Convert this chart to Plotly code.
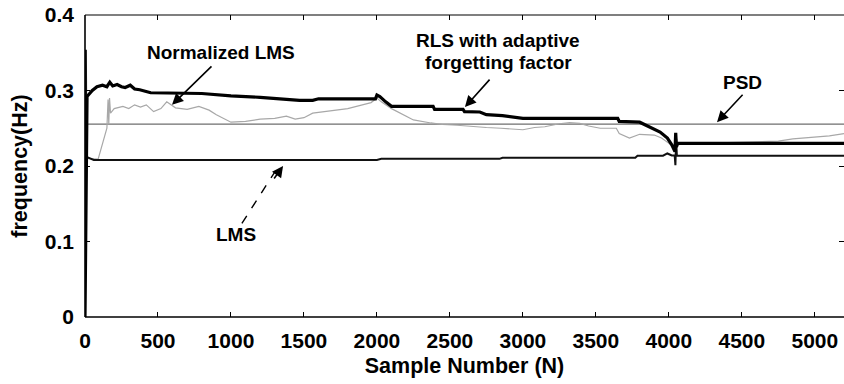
import plotly.graph_objects as go

# ---- data: estimated frequency vs. sample number ----
rls_n = [0, 8, 14, 50, 82, 120, 150, 170, 190, 220, 250, 275, 310, 340, 375, 450, 800,
         1000, 1200, 1470, 1560, 1600, 1990, 2000, 2020, 2060, 2100, 2385, 2395, 2590,
         2600, 2705, 2750, 2860, 3000, 3650, 3660, 3800, 3870, 3940, 3990, 4020, 4042,
         4047, 4052, 4060, 5200]
rls_f = [0.0, 0.255, 0.292, 0.300, 0.305, 0.307, 0.305, 0.311, 0.306, 0.308, 0.305, 0.304,
         0.307, 0.302, 0.301, 0.297, 0.296, 0.293, 0.291, 0.287, 0.287, 0.289, 0.289, 0.294,
         0.292, 0.285, 0.279, 0.279, 0.275, 0.275, 0.272, 0.2715, 0.268, 0.2667, 0.263,
         0.263, 0.259, 0.258, 0.252, 0.245, 0.237, 0.228, 0.219, 0.244, 0.225, 0.230, 0.230]

lms_n = [0, 6, 10, 20, 60, 2000, 2030, 2840, 2860, 3770, 3785, 3960, 3990, 4020, 4040,
         4045, 4050, 4055, 5200]
lms_f = [0.0, 0.354, 0.212, 0.211, 0.208, 0.208, 0.2095, 0.2095, 0.211, 0.211, 0.2136,
         0.2136, 0.2166, 0.214, 0.214, 0.201, 0.236, 0.2136, 0.2136]

nlms_n = [0, 90, 150, 158, 163, 168, 175, 200, 260, 300, 340, 380, 420, 470, 520, 560, 620,
          700, 780, 850, 900, 960, 1000, 1100, 1200, 1300, 1380, 1440, 1500, 1560, 1700,
          1800, 1900, 1960, 2000, 2030, 2100, 2250, 2370, 2450, 2550, 2650, 2750,
          2850, 2950, 3000, 3080, 3150, 3250, 3320, 3390, 3450, 3530, 3640, 3660, 3730,
          3800, 3900, 3950, 3990, 4030, 4080, 4200, 4400, 4600, 4750, 4850, 5000, 5100, 5200]
nlms_f = [0.210, 0.209, 0.250, 0.288, 0.255, 0.290, 0.270, 0.276, 0.279, 0.276, 0.281,
          0.278, 0.281, 0.272, 0.276, 0.285, 0.277, 0.275, 0.279, 0.274, 0.268, 0.262,
          0.258, 0.259, 0.262, 0.263, 0.266, 0.262, 0.264, 0.270, 0.274, 0.276, 0.281,
          0.284, 0.290, 0.285, 0.276, 0.261, 0.257, 0.255, 0.254, 0.252, 0.251,
          0.250, 0.249, 0.248, 0.251, 0.252, 0.256, 0.2575, 0.2565, 0.253, 0.250, 0.250,
          0.243, 0.237, 0.242, 0.241, 0.237, 0.232, 0.226, 0.229, 0.231, 0.231, 0.232,
          0.233, 0.236, 0.238, 0.240, 0.243]

psd_n = [0, 5200]
psd_f = [0.2555, 0.2555]

x_ticks = [0, 500, 1000, 1500, 2000, 2500, 3000, 3500, 4000, 4500, 5000]
y_ticks = [0, 0.1, 0.2, 0.3, 0.4]
y_labels = ["0", "0.1", "0.2", "0.3", "0.4"]
x_range = [0, 5200]
y_range = [0, 0.4]

FONT = "Liberation Sans, Arial, sans-serif"

fig = go.Figure()
fig.add_trace(go.Scatter(x=psd_n, y=psd_f, mode="lines",
                         line=dict(color="#6e6e6e", width=1.2), name="PSD"))
fig.add_trace(go.Scatter(x=nlms_n, y=nlms_f, mode="lines",
                         line=dict(color="#a8a8a8", width=1.2), name="Normalized LMS"))
fig.add_trace(go.Scatter(x=lms_n, y=lms_f, mode="lines",
                         line=dict(color="#111111", width=2), name="LMS"))
fig.add_trace(go.Scatter(x=rls_n, y=rls_f, mode="lines",
                         line=dict(color="#000000", width=3.2),
                         name="RLS with adaptive forgetting factor"))

# axis frame (left, bottom, top)
frame = dict(type="line", xref="paper", yref="paper", line=dict(color="black", width=1.6))
fig.add_shape(frame, x0=0, x1=0, y0=0, y1=1)
fig.add_shape(frame, x0=0, x1=1, y0=0, y1=0)
fig.add_shape(frame, x0=0, x1=1, y0=1, y1=1, line=dict(color="black", width=1.2))

txt = dict(showarrow=False, font=dict(family=FONT, size=19, color="black", weight="bold"),
           xref="x", yref="y")
fig.add_annotation(txt, x=932, y=0.351, text="Normalized LMS")
fig.add_annotation(txt, x=2830, y=0.366, text="RLS with adaptive")
fig.add_annotation(txt, x=2830, y=0.337, text="forgetting factor")
fig.add_annotation(txt, x=4508, y=0.310, text="PSD")
fig.add_annotation(txt, x=1035, y=0.109, text="LMS")

arr = dict(text="", showarrow=True, arrowhead=2, arrowsize=1.4, arrowwidth=1.6,
           arrowcolor="black", xref="x", yref="y", axref="pixel", ayref="pixel")
fig.add_annotation(arr, x=596, y=0.281, ax=41, ay=-40)
fig.add_annotation(arr, x=2603, y=0.278, ax=26, ay=-29)
fig.add_annotation(arr, x=4330, y=0.258, ax=27, ay=-29)
# LMS pointer: dashed shaft plus arrow head
fig.add_shape(type="line", xref="x", yref="y", x0=1075, y0=0.124, x1=1300, y1=0.192,
              line=dict(color="black", width=1.4, dash="dash"))
fig.add_annotation(arr, x=1357, y=0.200, ax=-10, ay=14)

fig.update_layout(
    width=844, height=384,
    margin=dict(l=85, r=0, t=15, b=67),
    paper_bgcolor="white", plot_bgcolor="white",
    showlegend=False,
    font=dict(family=FONT, color="black", weight="bold"),
)
fig.update_xaxes(range=x_range, tickvals=x_ticks, ticks="inside", ticklen=5,
                 tickwidth=1.2, tickcolor="black", mirror="ticks", showline=False,
                 showgrid=False, zeroline=False,
                 tickfont=dict(size=21, weight="bold"), ticklabelstandoff=9,
                 title=dict(text="Sample Number (N)", font=dict(size=21.5, weight="bold"),
                            standoff=6))
fig.update_yaxes(range=y_range, tickvals=y_ticks, ticktext=y_labels,
                 ticks="inside", ticklen=5, tickwidth=1.2, tickcolor="black",
                 mirror="ticks", showline=False, showgrid=False, zeroline=False,
                 tickfont=dict(size=21, weight="bold"), ticklabelstandoff=10,
                 title=dict(text="frequency(Hz)", font=dict(size=21.5, weight="bold"),
                            standoff=11))

fig.write_html("out.html")
